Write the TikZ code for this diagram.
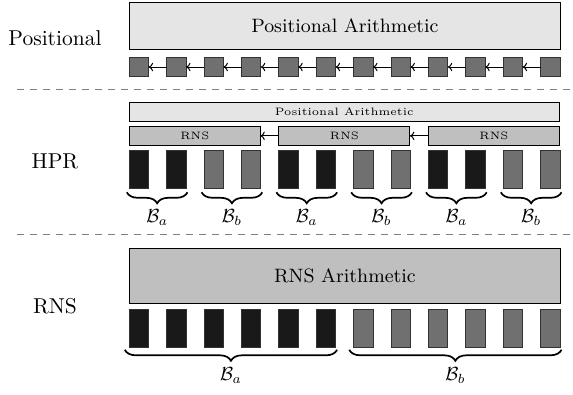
\documentclass[tikz,border=0pt]{standalone}
\usepackage{graphicx}
\usetikzlibrary{arrows.meta,decorations.pathreplacing}
\newcommand{\bigtxt}[1]{\scalebox{2.15}{#1}}
\newcommand{\mtxt}[1]{\scalebox{1.9}{#1}}
\colorlet{barA}{black!90}
\colorlet{barB}{black!56}
\colorlet{boxL}{black!10}
\colorlet{boxM}{black!25}
\begin{document}
\begin{tikzpicture}[x=1pt,y=-1pt,
  boxstyle/.style={draw=black, line width=0.9pt, inner sep=0pt, outer sep=0pt, anchor=north west},
  cell/.style={boxstyle, draw=black!80, minimum width=19.3pt},
  arr/.style={-{To[length=4.5pt,width=8.5pt]}, line width=1pt},
  bracestyle/.style={decorate, decoration={brace, mirror, amplitude=11pt}, line width=1.7pt},
  sepline/.style={draw=black!50, line width=1pt, dash pattern=on 6.5pt off 6.5pt},
  lbl/.style={anchor=base, inner sep=0pt}]
\useasboundingbox (0,0) rectangle (573,394);

% left labels
\node[lbl] (lpos) at (55,45.7) {\bigtxt{Positional}};
\node[lbl] (lhpr) at (55,168.3) {\bigtxt{HPR}};
\node[lbl] (lrns) at (55,313.3) {\bigtxt{RNS}};

% separators
\draw[sepline] (17.3,89.5) -- (573,89.5);
\draw[sepline] (17.3,234.3) -- (573,234.3);

% ---------- Positional ----------
\node[boxstyle, fill=boxL, minimum width=431.2pt, minimum height=46.6pt] (ptop) at (129.3,2.7)
  {\bigtxt{\small Positional Arithmetic}};
\foreach \i in {0,...,11}{
  \node[cell, fill=barB, minimum height=19.4pt] (s\i) at ({129.3+37.4*\i},57.3) {};
}
\foreach \i [evaluate=\i as \j using int(\i+1)] in {0,...,10}{
  \draw[arr] (s\j.west) -- (s\i.east);
}

% ---------- HPR ----------
\node[boxstyle, fill=boxL, minimum width=430pt, minimum height=18.7pt] (hpos) at (129.3,102.3)
  {\bigtxt{\tiny Positional Arithmetic}};
\foreach \k in {0,1,2}{
  \node[boxstyle, fill=boxM, minimum width=131pt, minimum height=18.3pt] (rb\k) at ({129.3+149.6*\k},126.7)
    {\bigtxt{\tiny RNS}};
}
\draw[arr] (rb1.west) -- (rb0.east);
\draw[arr] (rb2.west) -- (rb1.east);
\foreach \i/\c in {0/barA,1/barA,2/barB,3/barB,4/barA,5/barA,6/barB,7/barB,8/barA,9/barA,10/barB,11/barB}{
  \node[cell, fill=\c, minimum height=38.3pt] (h\i) at ({129.3+37.4*\i},150) {};
}
\foreach \a/\b/\t in {0/1/a,2/3/b,4/5/a,6/7/b,8/9/a,10/11/b}{
  \draw[bracestyle] ([xshift=-2.5pt,yshift=-4pt]h\a.south west) -- ([xshift=1.5pt,yshift=-4pt]h\b.south east)
    node[midway, yshift=-25pt] {\mtxt{$\mathcal{B}_\t$}};
}

% ---------- RNS ----------
\node[boxstyle, fill=boxM, minimum width=431.2pt, minimum height=55pt] (rtop) at (129.3,248.3)
  {\bigtxt{\small RNS Arithmetic}};
\foreach \i/\c in {0/barA,1/barA,2/barA,3/barA,4/barA,5/barA,6/barB,7/barB,8/barB,9/barB,10/barB,11/barB}{
  \node[cell, fill=\c, minimum height=38.3pt] (r\i) at ({129.3+37.4*\i},309) {};
}
\draw[bracestyle] ([xshift=-4.5pt,yshift=-2.5pt]r0.south west) -- ([xshift=1.5pt,yshift=-2.5pt]r5.south east)
  node[midway, yshift=-26pt] {\mtxt{$\mathcal{B}_a$}};
\draw[bracestyle] ([xshift=-4.5pt,yshift=-2.5pt]r6.south west) -- ([xshift=1.5pt,yshift=-2.5pt]r11.south east)
  node[midway, yshift=-26pt] {\mtxt{$\mathcal{B}_b$}};
\end{tikzpicture}
\end{document}
